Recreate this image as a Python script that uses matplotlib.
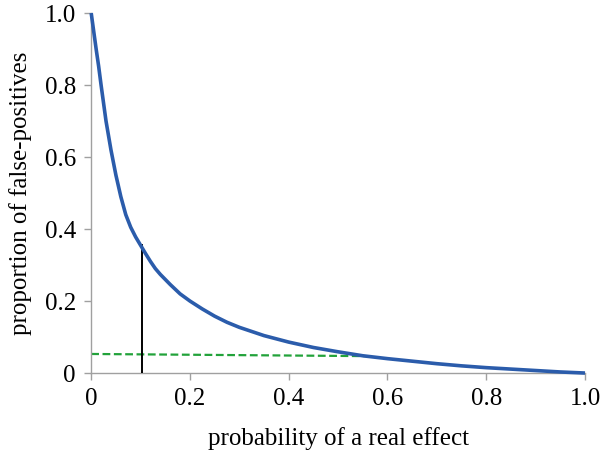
import matplotlib.pyplot as plt

# probability of a real effect vs proportion of false positives
prob_real = [0, 0.005, 0.01, 0.015, 0.02, 0.025, 0.03, 0.035, 0.04, 0.045, 0.05,
             0.06, 0.07, 0.08, 0.09, 0.1, 0.11, 0.12, 0.13, 0.14, 0.15, 0.16, 0.18,
             0.2, 0.225, 0.25, 0.275, 0.3, 0.35, 0.4, 0.45, 0.5, 0.55, 0.6, 0.65,
             0.7, 0.75, 0.8, 0.85, 0.9, 0.95, 1.0]
false_pos = [1.0, 0.95, 0.9, 0.853, 0.8, 0.75, 0.70, 0.66, 0.62, 0.585, 0.55,
             0.49, 0.44, 0.405, 0.378, 0.355, 0.332, 0.31, 0.29, 0.274, 0.26, 0.246, 0.22,
             0.2, 0.178, 0.158, 0.141, 0.127, 0.104, 0.086, 0.071, 0.059, 0.048, 0.040, 0.033,
             0.026, 0.020, 0.015, 0.011, 0.007, 0.003, 0.0]

# green dashed reference line
green_x = [0, 0.56]
green_y = [0.053, 0.047]

# black marker at p = 0.1
marker_x = 0.103
marker_top = 0.356

xticks = [0, 0.2, 0.4, 0.6, 0.8, 1.0]
xtick_labels = ["0", "0.2", "0.4", "0.6", "0.8", "1.0"]
yticks = [0, 0.2, 0.4, 0.6, 0.8, 1.0]
ytick_labels = ["0", "0.2", "0.4", "0.6", "0.8", "1.0"]


def main():
    plt.rcParams["font.family"] = "serif"
    plt.rcParams["font.serif"] = ["Liberation Serif", "Times New Roman", "DejaVu Serif"]
    fig = plt.figure(figsize=(6, 4.5), dpi=100)
    ax = fig.add_axes([0.152, 0.171, 0.823, 0.8])

    ax.plot(green_x, green_y, color="#22a23a", linewidth=1.6, linestyle=(0, (3.5, 1.6)), zorder=2)
    ax.plot([marker_x, marker_x], [0, marker_top], color="black", linewidth=1.4, zorder=3)
    ax.plot(prob_real, false_pos, color="#2b5cab", linewidth=2.6, clip_on=False,
            solid_capstyle="butt", solid_joinstyle="round", zorder=4)

    ax.set_xlim(0, 1)
    ax.set_ylim(0, 1)
    ax.set_xticks(xticks)
    ax.set_xticklabels(xtick_labels)
    ax.set_yticks(yticks)
    ax.set_yticklabels(ytick_labels)

    for side in ["top", "right"]:
        ax.spines[side].set_visible(False)
    for side in ["left", "bottom"]:
        ax.spines[side].set_color("#a0a0a0")
        ax.spines[side].set_linewidth(1.0)
    ax.tick_params(direction="out", length=5, width=1.0, color="#a0a0a0",
                   labelsize=18, pad=6)

    ax.set_xlabel("probability of a real effect", fontsize=18, labelpad=12)
    ax.set_ylabel("proportion of false-positives", fontsize=18, labelpad=9)

    fig.savefig("out.png", dpi=100)


if __name__ == "__main__":
    main()
